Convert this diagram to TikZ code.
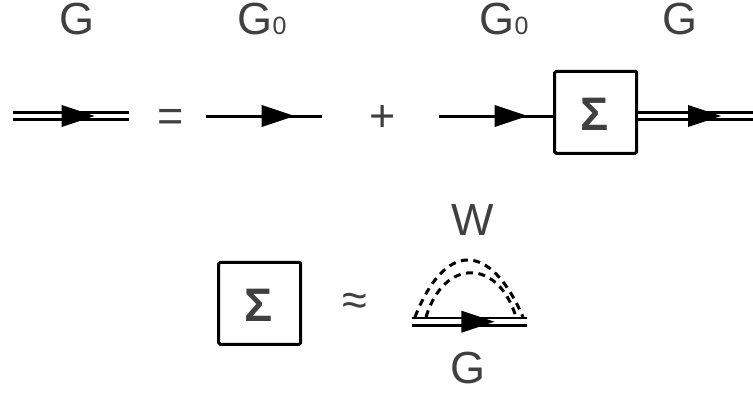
\documentclass[tikz,border=0pt]{standalone}
\usepackage{fontspec}
\setmainfont{Liberation Sans}
\usetikzlibrary{decorations.markings}
\definecolor{cgrey}{HTML}{404040}
\tikzset{
  every picture/.style={line width=3pt},
  lbl/.style={font=\fontsize{45}{50}\selectfont, text=cgrey, anchor=base, inner sep=0pt},
  sigmabox/.style={draw=black, fill=white, rounded corners=1.5pt, minimum size=82pt, inner sep=0pt},
  sigmalbl/.style={font=\fontsize{47}{52}\selectfont\bfseries, text=cgrey, anchor=base, inner sep=0pt},
  tip/.style={postaction={decorate, decoration={markings, mark=at position #1 with {\fill[black] (0,-11) -- (33,0) -- (0,11) -- cycle;}}}},
  prop/.style={draw=black, line width=3pt},
  dressed/.style={draw=black, line width=2.8pt, double=white, double distance=4.8pt},
  screened/.style={draw=black, line width=3pt, dash pattern=on 7pt off 5.5pt},
}
\newcommand{\subzero}{{\fontsize{25}{28}\selectfont 0}}
\begin{document}
\begin{tikzpicture}[x=1pt, y=-1pt]
  \useasboundingbox (0,0) rectangle (753,392);
  \node[lbl] (topg) at (77,34.5) {G};
  \node[lbl] (topgzero) at (262,34.5) {G\subzero};
  \node[lbl] (topgzerob) at (504,34.5) {G\subzero};
  \node[lbl] (topgb) at (679.5,34.5) {G};
  \node[lbl] (eq) at (170.5,131.5) {=};
  \node[lbl] (plus) at (383,131.5) {+};
  \node[sigmabox] (selfa) at (595.7,112.3) {};
  \node[sigmalbl] (sigmaa) at (595,130.5) {Σ};
  \node[sigmabox] (selfb) at (259.7,303.3) {};
  \node[sigmalbl] (sigmab) at (258.5,321.5) {Σ};
  \node[lbl] (approx) at (355,315) {≈};
  \node[lbl] (labw) at (472.5,235.5) {W};
  \node[lbl] (labg) at (467.5,383) {G};
  \coordinate (aa) at (13,116);
  \coordinate (ab) at (129,116);
  \coordinate (ba) at (206,116);
  \coordinate (bb) at (322,116);
  \coordinate (ca) at (439,116);
  \coordinate (da) at (753,116);
  \coordinate (ea) at (412,321.7);
  \coordinate (eb) at (527,321.7);
  \draw[dressed, tip=0.42] (aa) -- (ab);
  \draw[prop, tip=0.48] (ba) -- (bb);
  \draw[prop, tip=0.487] (ca) -- (ca -| selfa.west);
  \draw[dressed, tip=0.435] (da -| selfa.east) -- (da);
  \draw[screened] (415,317) .. controls (445,241) and (490,241) .. (523,317);
  \draw[screened] (426,317) .. controls (444,258) and (498,258) .. (516,317);
  \draw[dressed, tip=0.43] (ea) -- (eb);
\end{tikzpicture}
\end{document}
